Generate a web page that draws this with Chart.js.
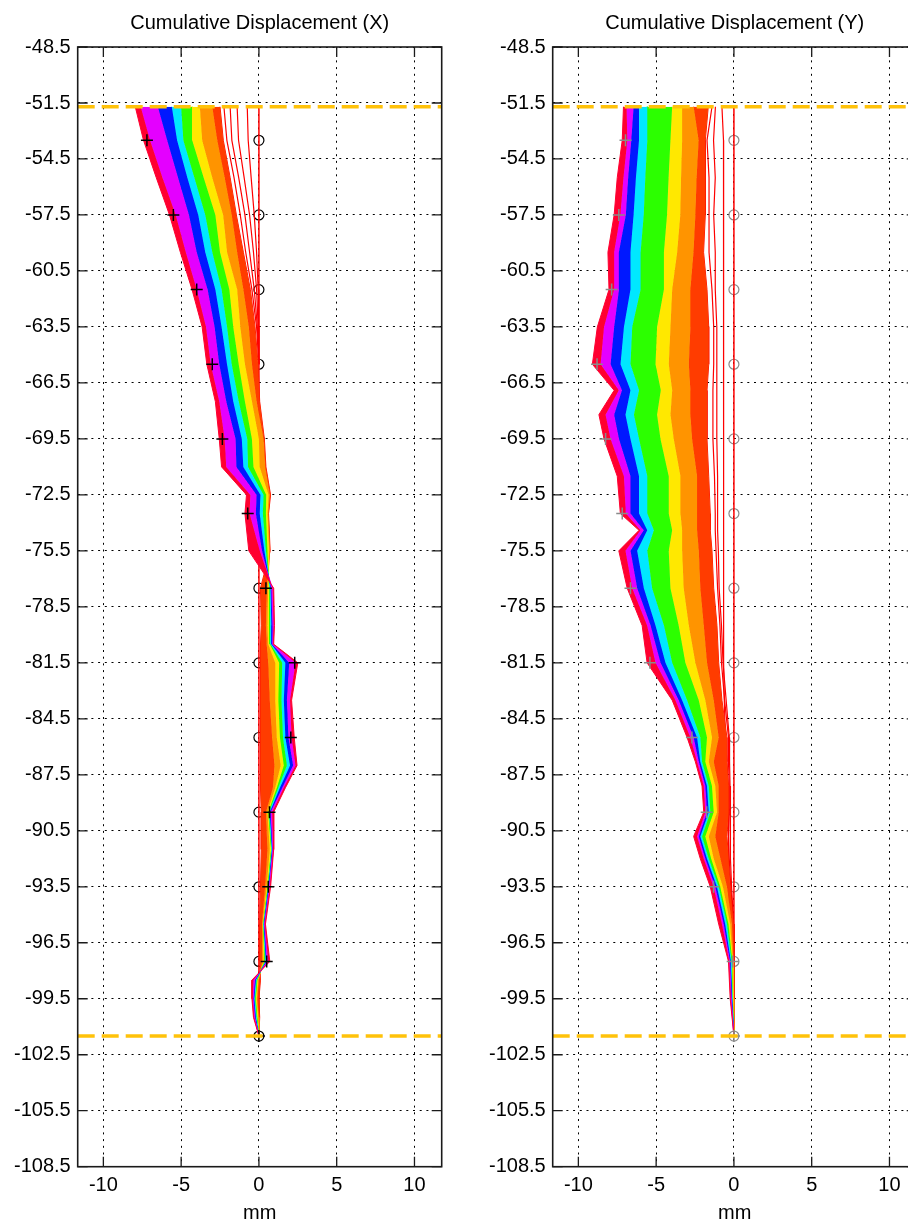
<!DOCTYPE html>
<html lang="en">
<head>
<meta charset="UTF-8">
<title>Cumulative Displacement</title>
<script src="https://cdn.jsdelivr.net/npm/chart.js"></script>
<style>
  html, body { margin: 0; padding: 0; background: #fff; overflow: hidden; }
  #wrap { position: relative; width: 908px; height: 1222px; overflow: hidden; }
  canvas { position: absolute; top: 0; }
  #chartX { left: 0; }
  #chartY { left: 460px; }
</style>
</head>
<body>
<div id="wrap">
  <canvas id="chartX" width="460" height="1240"></canvas>
  <canvas id="chartY" width="475" height="1240"></canvas>
</div>
<script>
// axis ticks and limits
const xTicks = [-10, -5, 0, 5, 10];
const yTicks = [-108.5, -105.5, -102.5, -99.5, -96.5, -93.5, -90.5, -87.5, -84.5, -81.5, -78.5,
                -75.5, -72.5, -69.5, -66.5, -63.5, -60.5, -57.5, -54.5, -51.5, -48.5];
const xRange = [-11.65, 11.75];
const limitDepths = [-51.7, -101.5];   // orange dashed lines (top / bottom of profile)

// reading depths with markers
const markerDepths = [-53.5, -57.5, -61.5, -65.5, -69.5, -73.5, -77.5, -81.5, -85.5, -89.5, -93.5, -97.5, -101.5];
const circleX = [0, 0, 0, 0, 0, 0, 0, 0, 0, 0, 0, 0, 0];
const plusX = [-7.2, -5.5, -4.0, -3.0, -2.35, -0.72, 0.45, 2.3, 2.05, 0.68, 0.6, 0.5, 0];
const circleY = [0, 0, 0, 0, 0, 0, 0, 0, 0, 0, 0, 0, 0];
const plusY = [-6.97, -7.4, -7.86, -8.8, -8.25, -7.18, -6.65, -5.4, -2.7, -1.75, -1.31, -0.08, 0];

// X direction: survey profiles, from latest (band 0) back to the early dense red (band 8)
const depthsX = [-51.7, -53.5, -55.5, -57.5, -59.5, -61.5, -63.5, -65.5, -67.5, -69.5, -71.0, -72.5, -73.5, -75.5, -77.5,
                 -79.5, -80.5, -81.5, -83.5, -85.5, -87.0, -88.2, -89.5, -91.5, -93.5, -95.5, -97.5, -98.5, -99.5, -100.5, -101.5];
const xBand0 = [-7.95, -7.42, -6.6, -5.75, -5.05, -4.3, -3.65, -3.35, -2.8, -2.55, -2.4, -0.8, -0.9, -0.65, 0.95,
                1.0, 0.95, 2.5, 2.1, 2.27, 2.45, 1.7, 0.95, 0.95, 0.75, 0.42, 0.7, -0.45, -0.45, -0.35, 0];
const xBand1 = [-7.6, -7.0, -6.2, -5.35, -4.7, -4.0, -3.4, -3.1, -2.55, -2.2, -2.1, -0.55, -0.6, 0.05, 0.88,
                0.95, 0.9, 2.35, 2.0, 2.1, 2.35, 1.6, 0.85, 0.92, 0.7, 0.38, 0.6, -0.35, -0.4, -0.3, 0];
const xBand2 = [-6.5, -5.9, -5.2, -4.5, -4.0, -3.3, -2.85, -2.55, -2.1, -1.5, -1.45, -0.15, -0.2, 0.2, 0.8,
                0.87, 0.85, 1.95, 1.8, 1.9, 2.2, 1.5, 0.75, 0.88, 0.65, 0.35, 0.5, -0.25, -0.35, -0.25, 0];
const xBand3 = [-5.6, -5.26, -4.6, -3.9, -3.45, -2.8, -2.4, -2.05, -1.65, -1.1, -1.0, 0.1, 0.05, 0.35, 0.75,
                0.8, 0.8, 1.7, 1.6, 1.7, 2.0, 1.35, 0.7, 0.85, 0.62, 0.32, 0.45, -0.2, -0.3, -0.2, 0];
const xBand4 = [-5.0, -4.86, -4.15, -3.45, -3.0, -2.4, -2.05, -1.75, -1.3, -0.75, -0.7, 0.3, 0.25, 0.45, 0.7,
                0.72, 0.75, 1.5, 1.45, 1.55, 1.8, 1.25, 0.65, 0.82, 0.6, 0.3, 0.4, -0.15, -0.25, -0.15, 0];
const xBand5 = [-4.3, -4.29, -3.55, -2.8, -2.5, -1.9, -1.65, -1.3, -0.9, -0.45, -0.35, 0.47, 0.45, 0.55, 0.65,
                0.65, 0.7, 1.3, 1.25, 1.35, 1.6, 1.15, 0.6, 0.78, 0.55, 0.28, 0.35, -0.1, -0.2, -0.1, 0];
const xBand6 = [-3.8, -3.65, -3.0, -2.3, -2.05, -1.4, -1.2, -0.9, -0.45, 0.0, 0.05, 0.62, 0.55, 0.65, 0.6,
                0.55, 0.6, 1.05, 1.05, 1.15, 1.4, 1.05, 0.55, 0.7, 0.5, 0.25, 0.3, -0.05, -0.15, -0.05, 0];
const xBand7 = [-3.0, -2.68, -2.2, -1.75, -1.4, -1.0, -0.65, -0.45, -0.15, 0.3, 0.4, 0.7, 0.6, 0.7, 0.5,
                0.45, 0.5, 0.6, 0.7, 0.85, 1.0, 0.9, 0.45, 0.55, 0.4, 0.2, 0.2, 0.0, -0.1, 0.0, 0];
const xBand8 = [-2.5, -2.29, -1.85, -1.45, -1.0, -0.55, -0.25, -0.05, 0.05, 0.35, 0.45, 0.75, 0.62, 0.72, 0.1,
                0.15, 0.1, 0.1, 0.1, 0.1, 0.1, 0.1, 0.15, 0.15, 0.1, 0.05, 0.05, 0.1, 0.0, 0.05, 0];
// early, widely spaced surveys (upper part only)
const xSparseDepths = [-51.7, -53.5, -55.5, -57.5, -59.5, -61.5, -63.5, -65.5];
const xSparse1 = [-2.25, -2.06, -1.6, -1.2, -0.85, -0.45, -0.15, 0];
const xSparse2 = [-1.85, -1.74, -1.3, -0.9, -0.6, -0.3, -0.1, 0];
const xSparse3 = [-1.4, -1.31, -0.95, -0.6, -0.35, -0.15, -0.05, 0];
const xSparse4 = [-0.75, -0.69, -0.5, -0.3, -0.15, -0.05, 0, 0];

// Y direction
const depthsY = [-51.7, -53.5, -55.5, -57.5, -59.5, -61.5, -63.5, -65.5, -66.9, -68.2, -69.5, -71.5, -73.5, -74.4, -75.5,
                 -77.5, -79.5, -81.5, -83.5, -85.5, -86.8, -88.1, -89.5, -90.8, -92.0, -93.5, -95.5, -97.5, -99.5, -101.5];
const yBand0 = [-7.1, -7.18, -7.5, -7.7, -8.1, -8.03, -8.78, -9.1, -7.7, -8.68, -8.35, -7.5, -7.3, -6.1, -7.4,
                -6.86, -5.9, -5.58, -3.97, -3.01, -2.48, -2.05, -1.94, -2.59, -2.16, -1.52, -0.98, -0.35, -0.24, 0];
const yBand1 = [-6.9, -6.85, -7.1, -7.3, -7.7, -7.7, -8.35, -8.57, -7.4, -8.25, -7.93, -7.07, -6.95, -6.0, -6.97,
                -6.54, -5.58, -5.04, -3.76, -2.8, -2.37, -1.94, -1.84, -2.37, -1.94, -1.31, -0.77, -0.3, -0.2, 0];
const yBand2 = [-6.45, -6.6, -6.8, -6.95, -7.4, -7.39, -7.7, -7.93, -7.2, -7.7, -7.39, -6.65, -6.65, -5.8, -6.65,
                -6.22, -5.36, -4.72, -3.55, -2.59, -2.26, -1.84, -1.73, -2.26, -1.84, -1.2, -0.66, -0.25, -0.15, 0];
const yBand3 = [-6.1, -6.1, -6.3, -6.45, -6.65, -6.65, -7.07, -7.29, -6.65, -6.97, -6.65, -6.1, -6.1, -5.57, -6.22,
                -5.79, -5.04, -4.4, -3.33, -2.37, -2.16, -1.73, -1.62, -2.16, -1.73, -1.09, -0.56, -0.2, -0.12, 0];
const yBand4 = [-5.57, -5.57, -5.7, -5.8, -6.0, -6.0, -6.54, -6.65, -6.1, -6.43, -6.1, -5.57, -5.57, -5.15, -5.57,
                -5.26, -4.5, -3.97, -3.01, -2.16, -2.05, -1.62, -1.52, -2.05, -1.62, -0.98, -0.45, -0.15, -0.1, 0];
const yBand5 = [-3.97, -4.08, -4.2, -4.3, -4.5, -4.5, -4.94, -5.04, -4.7, -4.94, -4.72, -4.19, -4.19, -3.97, -4.19,
                -4.08, -3.55, -3.12, -2.26, -1.73, -1.84, -1.41, -1.3, -1.84, -1.46, -0.88, -0.35, -0.1, -0.07, 0];
const yBand6 = [-3.33, -3.33, -3.4, -3.45, -3.65, -3.97, -4.08, -4.19, -3.97, -4.08, -3.87, -3.44, -3.44, -3.33, -3.33,
                -3.23, -2.9, -2.48, -1.84, -1.41, -1.62, -1.2, -1.09, -1.62, -1.3, -0.71, -0.24, -0.07, -0.05, 0];
const yBand7 = [-2.59, -2.27, -2.4, -2.48, -2.6, -2.8, -2.8, -2.9, -2.8, -2.8, -2.69, -2.37, -2.37, -2.37, -2.26,
                -2.16, -1.94, -1.73, -1.3, -0.98, -1.3, -0.98, -0.98, -1.2, -0.87, -0.45, -0.13, -0.04, -0.02, 0];
const yBand8 = [-1.65, -1.84, -1.84, -1.84, -1.95, -1.73, -1.62, -1.62, -1.73, -1.73, -1.73, -1.62, -1.52, -1.52, -1.41,
                -1.3, -1.09, -0.98, -0.77, -0.45, -0.45, -0.34, -0.34, -0.45, -0.34, -0.24, -0.05, 0, 0, 0];
const ySparse1 = [-1.41, -1.73, -1.6, -1.6, -1.6, -1.41, -1.3, -1.3, -1.35, -1.35, -1.35, -1.25, -1.2, -1.2, -1.15,
                  -1.05, -0.9, -0.8, -0.6, -0.35, -0.35, -0.3, -0.3, -0.35, -0.3, -0.2, -0.04, 0, 0, 0];
const ySparse2 = [-1.19, -1.31, -1.2, -1.3, -1.2, -1.2, -1.1, -1.1, -1.1, -1.1, -1.1, -1.05, -1.05, -1.05, -1.0,
                  -0.95, -0.8, -0.7, -0.5, -0.3, -0.28, -0.25, -0.22, -0.25, -0.2, -0.15, -0.02, 0, 0, 0];
const ySparse3 = [-0.77, -0.67, -0.67, -0.67, -0.67, -0.66, -0.66, -0.66, -0.66, -0.66, -0.66, -0.66, -0.66, -0.66, -0.66,
                  -0.66, -0.66, -0.66, -0.62, -0.55, -0.45, -0.4, -0.35, -0.35, -0.35, -0.35, -0.3, 0, 0, 0];

// colours of the bands, latest survey first (hsv-like colormap)
const bandColors = ['#ff0030', '#e400ff', '#0018ff', '#00e8ff', '#2cff00', '#ffe800', '#ff9400', '#ff3c00', '#ff1000'];
const FONT = '"Liberation Sans", Arial, Helvetica, sans-serif';

Chart.defaults.font.family = FONT;
Chart.defaults.color = '#000';

function pts(xs, ds) {
  return xs.map((v, i) => ({x: v, y: ds[i]}));
}

function buildDatasets(depths, bands, sparse, sparseDepths, plus, circles, markColor) {
  const sets = [];
  // dashed limits on top
  limitDepths.forEach(d => sets.push({
    data: [{x: xRange[0], y: d}, {x: xRange[1], y: d}],
    borderColor: '#ffc20a', borderWidth: 3.5, borderDash: [17, 7], pointRadius: 0, fill: false
  }));
  sets.push({
    data: pts(plus, markerDepths), showLine: false, pointStyle: 'cross', pointRadius: 6,
    pointBorderColor: markColor, pointBorderWidth: 1.5, borderColor: markColor
  });
  bands.forEach((b, k) => sets.push({
    data: pts(b, depths), borderColor: bandColors[k], backgroundColor: bandColors[k],
    borderWidth: 1, pointRadius: 0, fill: k < bands.length - 1 ? '+1' : false
  }));
  sparse.forEach(s => sets.push({
    data: pts(s, sparseDepths), borderColor: '#ff0000', borderWidth: 1.2, pointRadius: 0, fill: false
  }));
  // initial reading
  sets.push({
    data: [{x: 0, y: limitDepths[0]}, {x: 0, y: limitDepths[1]}],
    borderColor: '#ff0000', borderWidth: 1.5, pointRadius: 0, fill: false
  });
  sets.push({
    data: pts(circles, markerDepths), showLine: false, pointStyle: 'circle', pointRadius: 5,
    pointBorderColor: markColor, pointBackgroundColor: 'rgba(0,0,0,0)', pointBorderWidth: 1.2, borderColor: markColor
  });
  return sets;
}

function axes(yWidth) {
  const tickFont = {family: FONT, size: 20};
  const grid = {color: '#000', lineWidth: 1, drawTicks: false};
  const border = {display: false, dash: [2, 4.7]};
  return {
    x: {
      type: 'linear', min: xRange[0], max: xRange[1],
      afterBuildTicks: s => { s.ticks = xTicks.map(v => ({value: v})); },
      afterFit: s => { s.height = 73.3; },
      grid: grid, border: border,
      ticks: {font: tickFont, color: '#000', padding: 7, maxRotation: 0, autoSkip: false, callback: v => String(v)},
      title: {display: true, text: 'mm', font: {family: FONT, size: 20}, color: '#000', padding: {top: 0, bottom: 15}}
    },
    y: {
      type: 'linear', min: -108.5, max: -48.5,
      afterBuildTicks: s => { s.ticks = yTicks.map(v => ({value: v})); },
      afterFit: s => { s.width = yWidth; },
      grid: grid, border: border,
      ticks: {font: tickFont, color: '#000', padding: 7, autoSkip: false, callback: v => v.toFixed(1)}
    }
  };
}

// axes box with inward tick marks
const framePlugin = {
  id: 'frame',
  afterDatasetsDraw(chart) {
    const {ctx, chartArea: a, scales: {x, y}} = chart;
    ctx.save();
    ctx.strokeStyle = '#1a1a1a';
    ctx.lineWidth = 1.6;
    ctx.strokeRect(a.left, a.top, a.right - a.left, a.bottom - a.top);
    ctx.lineWidth = 1.3;
    ctx.beginPath();
    x.ticks.forEach(t => {
      const p = x.getPixelForValue(t.value);
      ctx.moveTo(p, a.bottom); ctx.lineTo(p, a.bottom - 10);
      ctx.moveTo(p, a.top); ctx.lineTo(p, a.top + 10);
    });
    y.ticks.forEach(t => {
      const p = y.getPixelForValue(t.value);
      ctx.moveTo(a.left, p); ctx.lineTo(a.left + 10, p);
      ctx.moveTo(a.right, p); ctx.lineTo(a.right - 10, p);
    });
    ctx.stroke();
    ctx.restore();
  }
};

function makeChart(id, title, datasets, yWidth, padRight) {
  return new Chart(document.getElementById(id), {
    type: 'line',
    data: {datasets: datasets},
    options: {
      indexAxis: 'y',
      responsive: false,
      animation: false,
      devicePixelRatio: 1,
      layout: {padding: {left: 0, right: padRight, top: 0, bottom: 0}},
      scales: axes(yWidth),
      plugins: {
        legend: {display: false},
        tooltip: {enabled: false},
        title: {
          display: true, text: title, fullSize: false, color: '#000',
          font: {family: FONT, size: 20, weight: 'normal'}, padding: {top: 11, bottom: 12}
        }
      }
    },
    plugins: [framePlugin]
  });
}

makeChart('chartX', 'Cumulative Displacement (X)',
  buildDatasets(depthsX, [xBand0, xBand1, xBand2, xBand3, xBand4, xBand5, xBand6, xBand7, xBand8],
    [xSparse1, xSparse2, xSparse3, xSparse4], xSparseDepths, plusX, circleX, '#000'),
  77.7, 18.3);

makeChart('chartY', 'Cumulative Displacement (Y)',
  buildDatasets(depthsY, [yBand0, yBand1, yBand2, yBand3, yBand4, yBand5, yBand6, yBand7, yBand8],
    [ySparse1, ySparse2, ySparse3], depthsY, plusY, circleY, '#8a8a8a'),
  92.7, 18.3);
</script>
</body>
</html>
